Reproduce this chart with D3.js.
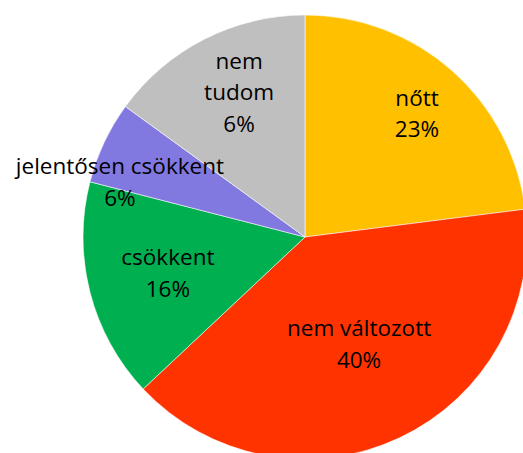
<!DOCTYPE html>
<html>
<head>
<meta charset="utf-8">
<script src="https://cdn.jsdelivr.net/npm/d3@7"></script>
<style>
  body { margin: 0; background: #fff; }
  text { font-family: "Open Sans", sans-serif; font-size: 22.5px; fill: #000; }
</style>
</head>
<body>
<div class="chart"></div>
<script>
// chart data
var categories = ["nőtt", "nem változott", "csökkent", "jelentősen csökkent", "nem\ntudom"];
var values = [23, 40, 16, 6, 15];
var pctLabels = ["23%", "40%", "16%", "6%", "6%"];
var colors = ["#FFC000", "#FF3300", "#00B050", "#8179DF", "#BFBFBF"];

var svgWidth = 523;
var svgHeight = 453;
var cx = 305, cy = 237, radius = 222;
var lineHeight = 31.5;

// label placement (radius, angle tweak in degrees) per slice
var labelRadius = [161, 127, 144, 191, 152];
var labelTurn = [2.7, 0, -3.4, -10.9, 1.3];

var svg = d3.select(".chart")
  .append("svg")
  .attr("width", svgWidth)
  .attr("height", svgHeight);

var g = svg.append("g")
  .attr("transform", `translate(${cx}, ${cy})`);

var pie = d3.pie().sort(null).value(d => d);
var arcs = pie(values);

var arc = d3.arc().innerRadius(0).outerRadius(radius);

g.selectAll("path")
  .data(arcs)
  .enter()
  .append("path")
  .attr("d", arc)
  .attr("fill", (d, i) => colors[i])
  .attr("stroke", "#fff")
  .attr("stroke-opacity", 0.7)
  .attr("stroke-width", 0.8);

// labels: category name plus percent
var labels = g.selectAll("text")
  .data(arcs)
  .enter()
  .append("text")
  .attr("text-anchor", "middle")
  .each(function(d, i) {
    var a = (d.startAngle + d.endAngle) / 2 + labelTurn[i] * Math.PI / 180;
    var x = labelRadius[i] * Math.sin(a);
    var y = -labelRadius[i] * Math.cos(a);
    var lines = categories[i].split("\n").concat([pctLabels[i]]);
    var top = y - (lines.length - 1) * lineHeight / 2;
    var t = d3.select(this);
    lines.forEach(function(l, k) {
      t.append("tspan")
        .attr("x", x)
        .attr("y", top + k * lineHeight)
        .text(l);
    });
  });
</script>
</body>
</html>
